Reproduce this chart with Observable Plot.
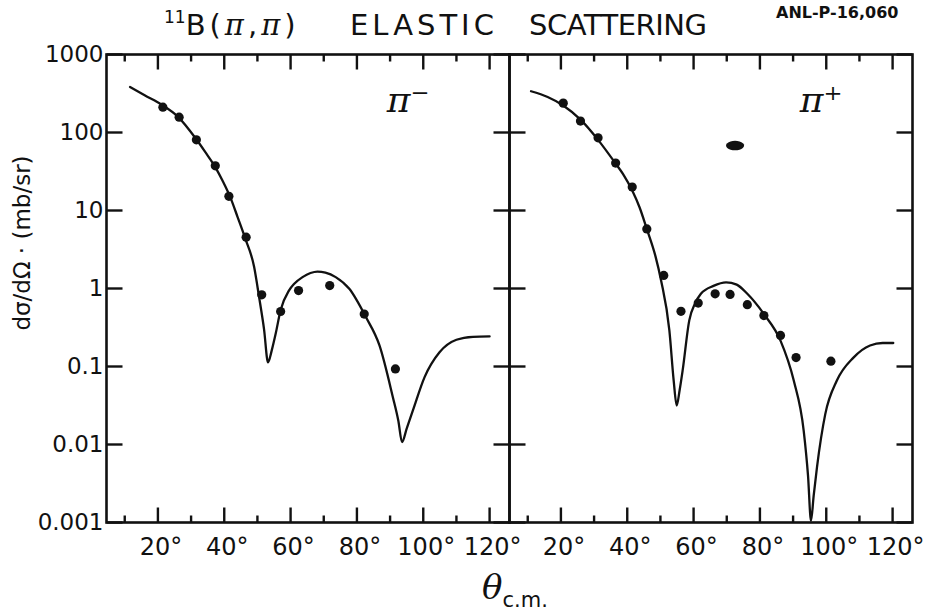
<!DOCTYPE html>
<html><head><meta charset="utf-8">
<script src="https://cdn.jsdelivr.net/npm/d3@7"></script>
<script src="https://cdn.jsdelivr.net/npm/@observablehq/plot@0.6"></script>
<style>
body{margin:0;background:#fff;}
#wrap{position:relative;width:926px;height:615px;overflow:hidden;font-family:"DejaVu Sans",sans-serif;color:#111;}
#chart{position:absolute;left:0;top:0;}
.t{position:absolute;white-space:pre;line-height:1;}
</style></head><body>
<div id="wrap">
<div id="chart"></div>
<div class="t" style="left:164px;top:11px;font-size:29px;letter-spacing:4px;"><span style="font-size:17px;position:relative;top:-12px;letter-spacing:0;">11</span>B(<i style="font-family:'DejaVu Serif'">π</i>,<i style="font-family:'DejaVu Serif'">π</i>)</div>
<div class="t" style="left:350px;top:11px;font-size:29px;letter-spacing:4px;">ELASTIC</div>
<div class="t" style="left:529px;top:11px;font-size:29px;letter-spacing:-0.5px;">SCATTERING</div>
<div class="t" style="left:776px;top:3px;font-size:16px;font-weight:bold;line-height:1.2;">ANL-P-16,060</div>
<div class="t" style="left:22px;top:243px;font-size:23px;transform:translate(-50%,-50%) rotate(-90deg);">dσ/dΩ · (mb/sr)</div>
<div class="t" style="left:482px;top:570px;"><i style="font-family:'DejaVu Serif';font-size:34px;">θ</i><span style="font-size:21px;position:relative;top:8px;">c.m.</span></div>
</div>
<script>
// ---- data ----
const panels = ["π-", "π+"];
const panelLabels = ["π⁻", "π⁺"];

const yTicks = [0.001, 0.01, 0.1, 1, 10, 100, 1000];
const yTickLabels = ["0.001", "0.01", "0.1", "1", "10", "100", "1000"];
const xLabelTicks = [20, 40, 60, 80, 100, 120];
const xLongTicks = [20, 40, 60, 80, 100, 120];
const xShortTicks = [10, 30, 50, 70, 90, 110];

// pi-minus: theory curve
const minusCurveTheta = [11.6, 16, 21.2, 26, 31.3, 34.3, 37.3, 39.5, 41.9, 44, 46.4, 49, 50.5, 52, 53.2, 54.3, 55.5, 57, 59.5, 61.1, 63.6, 66, 68.1, 70.5, 73.6, 77.7, 82.7, 86.8, 90.8, 92.5, 93.6, 95, 96.9, 100.4, 104.9, 110, 115, 120];
const minusCurveValue = [383, 300, 226, 160, 85, 56, 36, 24, 14.5, 8.3, 4.3, 1.9, 0.78, 0.3, 0.113, 0.16, 0.263, 0.53, 0.94, 1.15, 1.4, 1.58, 1.65, 1.6, 1.4, 0.99, 0.43, 0.186, 0.041, 0.02, 0.0107, 0.016, 0.0275, 0.073, 0.152, 0.22, 0.24, 0.243];
// pi-minus: data points
const minusPointTheta = [21.5, 26.4, 31.6, 37.3, 41.4, 46.6, 51.3, 57.0, 62.4, 71.8, 82.2, 91.6];
const minusPointValue = [211, 157, 80.5, 37.4, 15.2, 4.55, 0.83, 0.507, 0.94, 1.09, 0.47, 0.093];

// pi-plus: theory curve
const plusCurveTheta = [11, 16, 20.7, 26, 31.2, 36.5, 38.7, 41.5, 43.7, 45.9, 48.5, 50.2, 52.7, 54, 54.9, 55.8, 56.7, 58.7, 60.5, 62.2, 66, 69.8, 73, 76.2, 81.2, 86.2, 90.2, 93.2, 94.5, 95.4, 96.2, 97.2, 99.7, 103.2, 108.2, 113.2, 117, 120.2];
const plusCurveValue = [338, 285, 222, 145, 80.5, 40, 29.5, 18, 11, 5.8, 2.6, 1.27, 0.29, 0.066, 0.0316, 0.05, 0.089, 0.39, 0.65, 0.855, 1.08, 1.2, 1.12, 0.855, 0.47, 0.215, 0.066, 0.015, 0.004, 0.00105, 0.0022, 0.0051, 0.0245, 0.066, 0.13, 0.186, 0.2, 0.2];
// pi-plus: data points
const plusPointTheta = [20.7, 25.9, 31.2, 36.5, 41.5, 45.9, 51, 56.2, 61.4, 66.5, 71, 76.2, 81.2, 86.2, 90.9, 101.4];
const plusPointValue = [238, 140, 85.5, 40.5, 20, 5.8, 1.47, 0.51, 0.65, 0.855, 0.84, 0.62, 0.45, 0.25, 0.13, 0.117];

// ink spot in the pi-plus panel
const spotPanel = ["π+"];
const spotTheta = [72.5];
const spotValue = [68];

// ---- tables ----
const curves = [
  ...minusCurveTheta.map((t, i) => ({panel: panels[0], theta: t, value: minusCurveValue[i]})),
  ...plusCurveTheta.map((t, i) => ({panel: panels[1], theta: t, value: plusCurveValue[i]}))
];
const points = [
  ...minusPointTheta.map((t, i) => ({panel: panels[0], theta: t, value: minusPointValue[i]})),
  ...plusPointTheta.map((t, i) => ({panel: panels[1], theta: t, value: plusPointValue[i]}))
];
const spots = spotTheta.map((t, i) => ({panel: spotPanel[i], theta: t, value: spotValue[i]}));
const labels = panels.map((p, i) => ({panel: p, label: panelLabels[i]}));

const W = 926, H = 615, mT = 54, mB = 93, mL = 106, mR = 14;
const ink = "#111";

const ellipse = {
  draw(ctx) {
    const rx = 9, ry = 4.8, n = 24;
    for (let k = 0; k <= n; k++) {
      const a = 2 * Math.PI * k / n;
      const px = rx * Math.cos(a), py = ry * Math.sin(a);
      if (k === 0) ctx.moveTo(px, py); else ctx.lineTo(px, py);
    }
    ctx.closePath();
  }
};
// tick-shaped symbol: a short segment from the anchor point
const tick = (dx, dy) => ({draw(ctx) { ctx.moveTo(0, 0); ctx.lineTo(dx, dy); }});
const tickStyle = {fill: "none", stroke: ink, strokeWidth: 2.4};
const labelStyle = {fx: "panel", text: "label", frameAnchor: "top-right", textAnchor: "end", lineAnchor: "top",
  dy: 32, fontSize: 36, fontStyle: "italic", fontFamily: "DejaVu Serif", fill: ink};

const chart = Plot.plot({
  width: W, height: H,
  marginTop: mT, marginBottom: mB, marginLeft: mL, marginRight: mR,
  style: {fontFamily: "DejaVu Sans, sans-serif", color: ink, background: "white"},
  fx: {domain: panels, padding: 0, axis: null},
  x: {domain: [4.5, 126], axis: null},
  y: {type: "log", domain: [0.001, 1000], axis: null},
  marks: [
    // inward ticks on all four sides of each panel
    Plot.dot(yTicks, {y: d => d, frameAnchor: "left", symbol: tick(16, 0), ...tickStyle}),
    Plot.dot(yTicks, {y: d => d, frameAnchor: "right", symbol: tick(-16, 0), ...tickStyle}),
    Plot.dot(xLongTicks, {x: d => d, frameAnchor: "bottom", symbol: tick(0, -15), ...tickStyle}),
    Plot.dot(xShortTicks, {x: d => d, frameAnchor: "bottom", symbol: tick(0, -7), ...tickStyle}),
    Plot.dot(xLongTicks, {x: d => d, frameAnchor: "top", symbol: tick(0, 15), ...tickStyle}),
    Plot.dot(xShortTicks, {x: d => d, frameAnchor: "top", symbol: tick(0, 7), ...tickStyle}),
    Plot.frame({stroke: ink, strokeWidth: 2.6}),
    Plot.line(curves, {fx: "panel", x: "theta", y: "value", curve: "monotone-x", stroke: ink, strokeWidth: 2.3}),
    Plot.dot(points, {fx: "panel", x: "theta", y: "value", r: 4.6, fill: ink, stroke: "none"}),
    Plot.dot(spots, {fx: "panel", x: "theta", y: "value", symbol: ellipse, fill: ink, stroke: "none"}),
    Plot.text([labels[0]], {...labelStyle, dx: -80}),
    Plot.text([labels[1]], {...labelStyle, dx: -70}),
    Plot.axisX(xLabelTicks, {anchor: "bottom", tickSize: 0, tickPadding: 15, tickFormat: d => d + "°",
      fontSize: 24, label: null, dx: 3}),
    Plot.axisY(yTicks, {anchor: "left", tickSize: 0, tickPadding: 3,
      tickFormat: d => yTickLabels[yTicks.indexOf(d)], fontSize: 23, label: null})
  ]
});
document.getElementById("chart").appendChild(chart);
</script>
</body></html>
